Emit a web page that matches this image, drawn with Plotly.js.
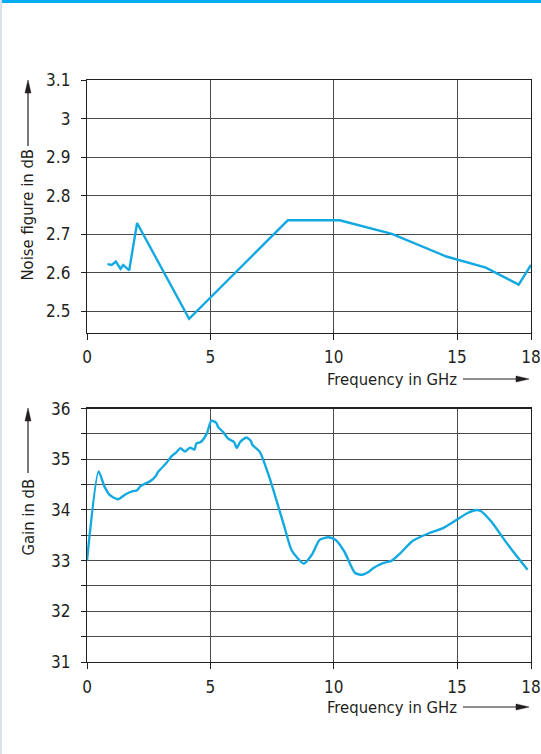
<!DOCTYPE html>
<html>
<head>
<meta charset="utf-8">
<script src="https://cdn.plot.ly/plotly-3.0.1.min.js"></script>
<style>
  html, body { margin: 0; padding: 0; background: #ffffff; }
  #wrap { position: relative; width: 541px; height: 754px; overflow: hidden; }
  #chart { position: absolute; left: 0; top: 0; width: 541px; height: 754px; }
  #topbar { position: absolute; left: 0; top: 0; width: 541px; height: 3px; background: #00adef; z-index: 2; }
  #leftbar { position: absolute; left: 0; top: 0; width: 2px; height: 754px; background: #dce1e6; z-index: 2; }
</style>
</head>
<body>
<div id="wrap">
  <div id="chart"></div>
  <div id="topbar"></div>
  <div id="leftbar"></div>
</div>
<script>
// ---- Data ----
const freqTicks = [0, 5, 10, 15, 18];

const noiseFreq = [0.83, 1.0, 1.17, 1.36, 1.47, 1.71, 2.03, 4.14, 8.14, 10.24, 12.36, 14.57, 16.17, 17.5, 18.0];
const noiseDb   = [2.622, 2.62, 2.629, 2.61, 2.62, 2.606, 2.729, 2.48, 2.736, 2.736, 2.701, 2.642, 2.613, 2.569, 2.62];

const gainFreq = [0, 0.47, 0.71, 0.93, 1.26, 1.57, 1.86, 2.03, 2.17, 2.57, 2.79, 2.88, 3.21, 3.43, 3.61, 3.79,
                  3.97, 4.17, 4.36, 4.43, 4.61, 4.86, 5.04, 5.24, 5.31, 5.53, 5.71, 5.96, 6.07, 6.21, 6.46, 6.64,
                  6.71, 7.0, 7.43, 8.0, 8.3, 8.79, 9.12, 9.43, 9.79, 10.07, 10.43, 10.86, 11.14, 11.43, 11.6,
                  12.0, 12.36, 12.71, 13.21, 13.86, 14.43, 15.0, 15.43, 15.8, 15.96, 16.39, 16.92, 17.45, 17.86];
const gainDb   = [33.0, 34.76, 34.46, 34.29, 34.21, 34.31, 34.37, 34.39, 34.47, 34.57, 34.67, 34.75, 34.92, 35.06, 35.13, 35.22,
                  35.15, 35.23, 35.19, 35.31, 35.34, 35.51, 35.76, 35.72, 35.64, 35.53, 35.41, 35.34, 35.22, 35.34, 35.43, 35.36,
                  35.28, 35.15, 34.59, 33.67, 33.2, 32.94, 33.12, 33.41, 33.46, 33.41, 33.18, 32.76, 32.72, 32.78, 32.85,
                  32.95, 33.0, 33.15, 33.39, 33.54, 33.64, 33.81, 33.94, 34.0, 33.98, 33.77, 33.41, 33.07, 32.82];

const noiseTitle = 'Noise figure in dB';
const gainTitle = 'Gain in dB';
const freqTitle = 'Frequency in GHz';

// ---- Styling / layout helpers ----
const W = 541, H = 754;
const M = {l: 87, r: 10, t: 80, b: 92};
const PW = W - M.l - M.r, PH = H - M.t - M.b;
const px = x => (x - M.l) / PW;          // pixel -> paper x
const py = y => (H - M.b - y) / PH;      // pixel -> paper y

const lineColor = '#12a9e1';
const gridColor = '#4a4a4a';
const inkColor = '#231f20';
const fontFam = '"Liberation Sans Narrow", "DejaVu Sans Condensed", "Arial Narrow", sans-serif';

const traces = [
  {x: noiseFreq, y: noiseDb, xaxis: 'x', yaxis: 'y', mode: 'lines',
   line: {color: lineColor, width: 2.4}, hoverinfo: 'skip'},
  {x: gainFreq, y: gainDb, xaxis: 'x2', yaxis: 'y2', mode: 'lines',
   line: {color: lineColor, width: 2.4, shape: 'spline', smoothing: 0.6}, hoverinfo: 'skip'}
];

function xAxis(anchor) {
  return {
    anchor: anchor, domain: [0, 1], range: [0, 18],
    tickmode: 'array', tickvals: freqTicks, ticktext: freqTicks.map(String),
    showgrid: true, gridcolor: gridColor, gridwidth: 1,
    ticks: 'outside', ticklen: 6, tickwidth: 1, tickcolor: inkColor,
    showline: true, linecolor: inkColor, linewidth: 1.2, mirror: true,
    zeroline: false, ticklabelstandoff: 3,
    tickfont: {family: fontFam, size: 17, color: inkColor}
  };
}
function yAxisBase() {
  return {
    showgrid: true, gridcolor: gridColor, gridwidth: 1,
    ticks: 'outside', ticklen: 5, tickwidth: 1, tickcolor: inkColor,
    showline: true, linecolor: inkColor, linewidth: 1.2, mirror: true,
    zeroline: false, ticklabelstandoff: 7,
    tickfont: {family: fontFam, size: 17, color: inkColor}
  };
}

const yTop = Object.assign(yAxisBase(), {
  anchor: 'x', domain: [py(332.7), 1], range: [2.444, 3.1005], tick0: 2.5, dtick: 0.1
});
const yBot = Object.assign(yAxisBase(), {
  anchor: 'x2', domain: [0, py(408.5)], range: [31, 36.001], tick0: 31, dtick: 1,
  minor: {dtick: 0.5, showgrid: true, gridcolor: gridColor, gridwidth: 1,
          ticks: 'outside', ticklen: 5, tickcolor: inkColor}
});

const txtFont = {family: fontFam, size: 16.5, color: inkColor};
const annotations = [
  {text: noiseTitle, xref: 'paper', yref: 'paper', x: px(27.5), y: py(215), textangle: -90,
   xanchor: 'center', yanchor: 'middle', showarrow: false, font: txtFont},
  {text: gainTitle, xref: 'paper', yref: 'paper', x: px(27.5), y: py(517), textangle: -90,
   xanchor: 'center', yanchor: 'middle', showarrow: false, font: txtFont},
  {text: freqTitle, xref: 'paper', yref: 'paper', x: px(459), y: py(379),
   xanchor: 'right', yanchor: 'middle', showarrow: false, font: txtFont},
  {text: freqTitle, xref: 'paper', yref: 'paper', x: px(459), y: py(707),
   xanchor: 'right', yanchor: 'middle', showarrow: false, font: txtFont}
];

function vArrow(x, yTail, yTip) {
  return [
    {type: 'line', xref: 'paper', yref: 'paper', x0: px(x), x1: px(x), y0: py(yTail), y1: py(yTip + 10),
     line: {color: inkColor, width: 1.2}},
    {type: 'path', xref: 'paper', yref: 'paper',
     path: `M ${px(x)} ${py(yTip)} L ${px(x - 3)} ${py(yTip + 13)} L ${px(x + 3)} ${py(yTip + 13)} Z`,
     fillcolor: inkColor, line: {color: inkColor, width: 0.5}}
  ];
}
function hArrow(y, xTail, xTip) {
  return [
    {type: 'line', xref: 'paper', yref: 'paper', x0: px(xTail), x1: px(xTip - 10), y0: py(y), y1: py(y),
     line: {color: inkColor, width: 1.2}},
    {type: 'path', xref: 'paper', yref: 'paper',
     path: `M ${px(xTip)} ${py(y)} L ${px(xTip - 13)} ${py(y - 3)} L ${px(xTip - 13)} ${py(y + 3)} Z`,
     fillcolor: inkColor, line: {color: inkColor, width: 0.5}}
  ];
}

const shapes = [].concat(
  vArrow(28, 146, 80),
  vArrow(28, 473, 408),
  hArrow(379, 463, 529),
  hArrow(707, 463, 529)
);

const layout = {
  width: W, height: H, margin: M,
  paper_bgcolor: '#ffffff', plot_bgcolor: '#ffffff',
  showlegend: false,
  xaxis: xAxis('y'), yaxis: yTop,
  xaxis2: xAxis('y2'), yaxis2: yBot,
  annotations: annotations, shapes: shapes,
  font: {family: fontFam, color: inkColor}
};

Plotly.newPlot('chart', traces, layout, {displayModeBar: false, staticPlot: true});
</script>
</body>
</html>
